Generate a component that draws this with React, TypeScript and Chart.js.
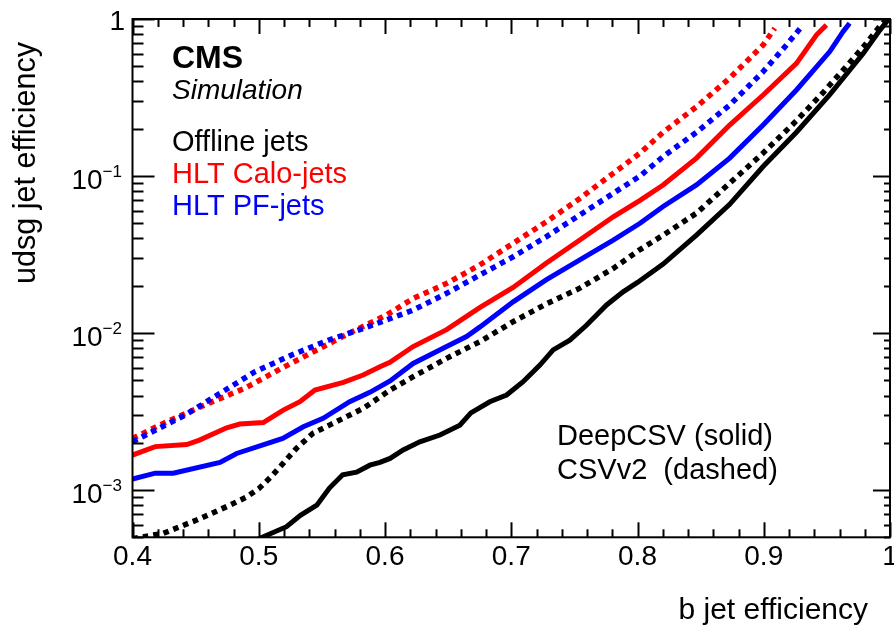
import React, { useEffect, useRef } from "react";
import { Chart, registerables } from "chart.js";

Chart.register(...registerables);

// ---------- data (b-jet efficiency vs udsg mistag efficiency) ----------
const offlineDeepX = [0.5, 0.522, 0.533, 0.546, 0.556, 0.5665, 0.5775, 0.588, 0.596, 0.604, 0.6144, 0.6276, 0.6435, 0.6593, 0.668, 0.683, 0.6963, 0.7094, 0.7227, 0.7332, 0.7464, 0.7596, 0.7755, 0.7886, 0.8, 0.8203, 0.8467, 0.873, 0.8995, 0.9259, 0.9523, 0.9786, 0.992, 1.0];
const offlineDeepY = [4.9e-4, 5.84e-4, 6.9e-4, 8.0e-4, 1.03e-3, 1.25e-3, 1.3e-3, 1.44e-3, 1.5e-3, 1.59e-3, 1.8e-3, 2.03e-3, 2.24e-3, 2.59e-3, 3.1e-3, 3.65e-3, 4.03e-3, 4.9e-3, 6.25e-3, 7.8e-3, 9.0e-3, 1.12e-2, 1.51e-2, 1.83e-2, 2.1e-2, 2.75e-2, 4.2e-2, 6.6e-2, 0.115, 0.19, 0.33, 0.6, 0.85, 1.02];

const offlineCsvX = [0.4, 0.4244, 0.4508, 0.477, 0.49, 0.5, 0.51, 0.52, 0.53, 0.543, 0.556, 0.5827, 0.604, 0.6223, 0.6488, 0.675, 0.7015, 0.7276, 0.7543, 0.7808, 0.802, 0.8203, 0.8467, 0.873, 0.8995, 0.9259, 0.947, 0.9655, 0.9786, 0.992, 1.0];
const offlineCsvY = [4.9e-4, 5.3e-4, 6.44e-4, 8.0e-4, 9.0e-4, 1.02e-3, 1.22e-3, 1.5e-3, 1.85e-3, 2.3e-3, 2.59e-3, 3.31e-3, 4.33e-3, 5.27e-3, 6.9e-3, 8.8e-3, 1.18e-2, 1.53e-2, 1.93e-2, 2.58e-2, 3.4e-2, 4.2e-2, 5.8e-2, 9.0e-2, 0.14, 0.225, 0.34, 0.5, 0.66, 0.9, 1.05];

const caloDeepX = [0.4, 0.418, 0.443, 0.453, 0.4746, 0.485, 0.5036, 0.5194, 0.5326, 0.5445, 0.567, 0.5827, 0.596, 0.6039, 0.6223, 0.6488, 0.675, 0.7015, 0.7276, 0.7543, 0.7808, 0.802, 0.8203, 0.8467, 0.873, 0.8995, 0.9259, 0.9417, 0.9496];
const caloDeepY = [1.67e-3, 1.89e-3, 1.95e-3, 2.08e-3, 2.49e-3, 2.63e-3, 2.69e-3, 3.23e-3, 3.65e-3, 4.33e-3, 4.85e-3, 5.4e-3, 6.1e-3, 6.5e-3, 8.2e-3, 1.05e-2, 1.45e-2, 1.95e-2, 2.78e-2, 3.91e-2, 5.5e-2, 7.0e-2, 8.77e-2, 0.13, 0.211, 0.328, 0.522, 0.79, 0.915];

const pfDeepX = [0.4, 0.418, 0.4323, 0.4693, 0.4825, 0.519, 0.5353, 0.551, 0.572, 0.588, 0.604, 0.6223, 0.6488, 0.6646, 0.675, 0.7015, 0.7276, 0.7543, 0.7808, 0.802, 0.8203, 0.8467, 0.873, 0.8995, 0.9259, 0.9523, 0.9628, 0.968];
const pfDeepY = [1.175e-3, 1.28e-3, 1.28e-3, 1.5e-3, 1.71e-3, 2.13e-3, 2.53e-3, 2.86e-3, 3.65e-3, 4.19e-3, 4.95e-3, 6.4e-3, 8.2e-3, 9.5e-3, 1.09e-2, 1.58e-2, 2.18e-2, 2.92e-2, 3.91e-2, 5.0e-2, 6.4e-2, 8.77e-2, 0.13, 0.211, 0.353, 0.62, 0.83, 0.94];

const caloCsvX = [0.4, 0.427, 0.46, 0.489, 0.517, 0.546, 0.572, 0.601, 0.6223, 0.6488, 0.675, 0.7015, 0.7276, 0.7543, 0.7808, 0.802, 0.8203, 0.8467, 0.873, 0.8995, 0.9087];
const caloCsvY = [2.13e-3, 2.72e-3, 3.56e-3, 4.45e-3, 5.9e-3, 7.8e-3, 1.0e-2, 1.3e-2, 1.66e-2, 2.07e-2, 2.71e-2, 3.73e-2, 5.1e-2, 7.2e-2, 0.104, 0.14, 0.19, 0.276, 0.42, 0.683, 0.873];

const pfCsvX = [0.4, 0.4417, 0.4693, 0.497, 0.526, 0.555, 0.5827, 0.601, 0.6223, 0.6488, 0.675, 0.7015, 0.7276, 0.7543, 0.7808, 0.802, 0.8203, 0.8467, 0.873, 0.8995, 0.918, 0.9298];
const pfCsvY = [2.03e-3, 3.0e-3, 4.13e-3, 5.67e-3, 7.24e-3, 9.0e-3, 1.07e-2, 1.21e-2, 1.4e-2, 1.79e-2, 2.34e-2, 3.06e-2, 4.1e-2, 5.65e-2, 7.76e-2, 0.1, 0.133, 0.19, 0.283, 0.462, 0.683, 0.89];

// ---------- axes ----------
const xMin = 0.4;
const xMax = 1.0;
const yMin = 5e-4;
const yMax = 1;
const xMajorTicks = [0.4, 0.5, 0.6, 0.7, 0.8, 0.9, 1.0];
const xTickLabels = ["0.4", "0.5", "0.6", "0.7", "0.8", "0.9", "1"];
const xMinorStep = 0.02;
const yDecades = [1e-3, 1e-2, 1e-1, 1];
const yTickExponents = ["\u22123", "\u22122", "\u22121", ""];

const legendLines = ["Offline jets", "HLT Calo-jets", "HLT PF-jets"];
const legendColors = ["#000000", "#ff0000", "#0000ff"];
const styleLines = ["DeepCSV (solid)", "CSVv2  (dashed)"];

const FONT = '"Liberation Sans", Arial, Helvetica, sans-serif';

const toPts = (xs: number[], ys: number[]) => xs.map((v, i) => ({ x: v, y: ys[i] }));

const rootPlugin = {
  id: "rootFrame",
  afterDraw(chart: any) {
    const { ctx, chartArea: a, scales } = chart;
    const x = scales.x;
    const y = scales.y;
    ctx.save();
    ctx.strokeStyle = "#000";
    ctx.lineWidth = 2;
    ctx.strokeRect(a.left, a.top, a.right - a.left, a.bottom - a.top);
    const line = (x1: number, y1: number, x2: number, y2: number) => {
      ctx.beginPath();
      ctx.moveTo(x1, y1);
      ctx.lineTo(x2, y2);
      ctx.stroke();
    };
    // x ticks
    const nMinor = Math.round((xMax - xMin) / xMinorStep);
    for (let i = 0; i <= nMinor; i++) {
      const v = xMin + i * xMinorStep;
      const px = Math.round(x.getPixelForValue(v)) + 0.5;
      const len = i % 5 === 0 ? 15 : 8;
      line(px, a.bottom, px, a.bottom - len);
      line(px, a.top, px, a.top + len);
    }
    // y ticks
    for (let d = -4; d <= 0; d++) {
      for (let k = 1; k <= 9; k++) {
        const v = k * Math.pow(10, d);
        if (v < yMin * 0.999 || v > yMax * 1.001) continue;
        const py = Math.round(y.getPixelForValue(v)) + 0.5;
        const major = k === 1;
        line(a.left, py, a.left + (major ? 22 : 11), py);
        line(a.right, py, a.right - (major ? 17 : 6), py);
      }
    }
    ctx.fillStyle = "#000";
    // x labels
    ctx.font = `28px ${FONT}`;
    ctx.textAlign = "center";
    ctx.textBaseline = "alphabetic";
    xMajorTicks.forEach((v, i) => {
      ctx.fillText(xTickLabels[i], x.getPixelForValue(v), 565);
    });
    // y labels
    yDecades.forEach((v, i) => {
      const py = y.getPixelForValue(v);
      const exp = yTickExponents[i];
      if (!exp) {
        ctx.font = `28px ${FONT}`;
        ctx.textAlign = "right";
        ctx.fillText("1", 125, py + 11);
        return;
      }
      ctx.font = `17px ${FONT}`;
      const ew = ctx.measureText(exp).width;
      ctx.textAlign = "right";
      ctx.fillText(exp, 122, py + 1);
      ctx.font = `28px ${FONT}`;
      ctx.fillText("10", 122 - ew, py + 12.5);
    });
    // axis titles
    ctx.font = `30px ${FONT}`;
    ctx.textAlign = "right";
    ctx.fillText("b jet efficiency", 868, 619);
    ctx.save();
    ctx.translate(35, 42);
    ctx.rotate(-Math.PI / 2);
    ctx.font = `30.5px ${FONT}`;
    ctx.textAlign = "right";
    ctx.fillText("udsg jet efficiency", 0, 0);
    ctx.restore();
    // CMS label
    ctx.textAlign = "left";
    ctx.font = `bold 32px ${FONT}`;
    ctx.fillText("CMS", 172, 68);
    ctx.font = `italic 28px ${FONT}`;
    ctx.fillText("Simulation", 172, 99);
    // legend
    ctx.font = `29px ${FONT}`;
    legendLines.forEach((t, i) => {
      ctx.fillStyle = legendColors[i];
      ctx.fillText(t, 172, 150.5 + i * 32);
    });
    ctx.fillStyle = "#000";
    styleLines.forEach((t, i) => {
      ctx.fillText(t, 557, 444.5 + i * 34);
    });
    ctx.restore();
  },
};

export default function App() {
  const ref = useRef<HTMLCanvasElement | null>(null);
  useEffect(() => {
    document.body.style.margin = "0";
    const canvas = ref.current;
    if (!canvas) return;
    const solid = (label: string, color: string, xs: number[], ys: number[]) => ({
      label,
      data: toPts(xs, ys),
      borderColor: color,
      backgroundColor: color,
      borderWidth: 5,
      pointRadius: 0,
      tension: 0,
      fill: false,
    });
    const dotted = (label: string, color: string, xs: number[], ys: number[]) => ({
      ...solid(label, color, xs, ys),
      borderWidth: 5.5,
      borderDash: [5.5, 5],
      borderCapStyle: "butt",
    });
    const chart = new Chart(canvas, {
      type: "line",
      data: {
        datasets: [
          solid("Offline DeepCSV", "#000000", offlineDeepX, offlineDeepY),
          dotted("Offline CSVv2", "#000000", offlineCsvX, offlineCsvY),
          solid("HLT PF DeepCSV", "#0000ff", pfDeepX, pfDeepY),
          solid("HLT Calo DeepCSV", "#ff0000", caloDeepX, caloDeepY),
          dotted("HLT PF CSVv2", "#0000ff", pfCsvX, pfCsvY),
          dotted("HLT Calo CSVv2", "#ff0000", caloCsvX, caloCsvY),
        ] as any,
      },
      options: {
        animation: false,
        responsive: false,
        devicePixelRatio: 1,
        layout: { padding: { left: 132.5, right: 4, top: 19, bottom: 88.7 } },
        plugins: { legend: { display: false }, tooltip: { enabled: false } },
        scales: {
          x: { type: "linear", min: xMin, max: xMax, display: false },
          y: { type: "logarithmic", min: yMin, max: yMax, display: false },
        },
      } as any,
      plugins: [rootPlugin],
    });
    return () => chart.destroy();
  }, []);
  return <canvas ref={ref} width={894} height={626} style={{ display: "block" }} />;
}
